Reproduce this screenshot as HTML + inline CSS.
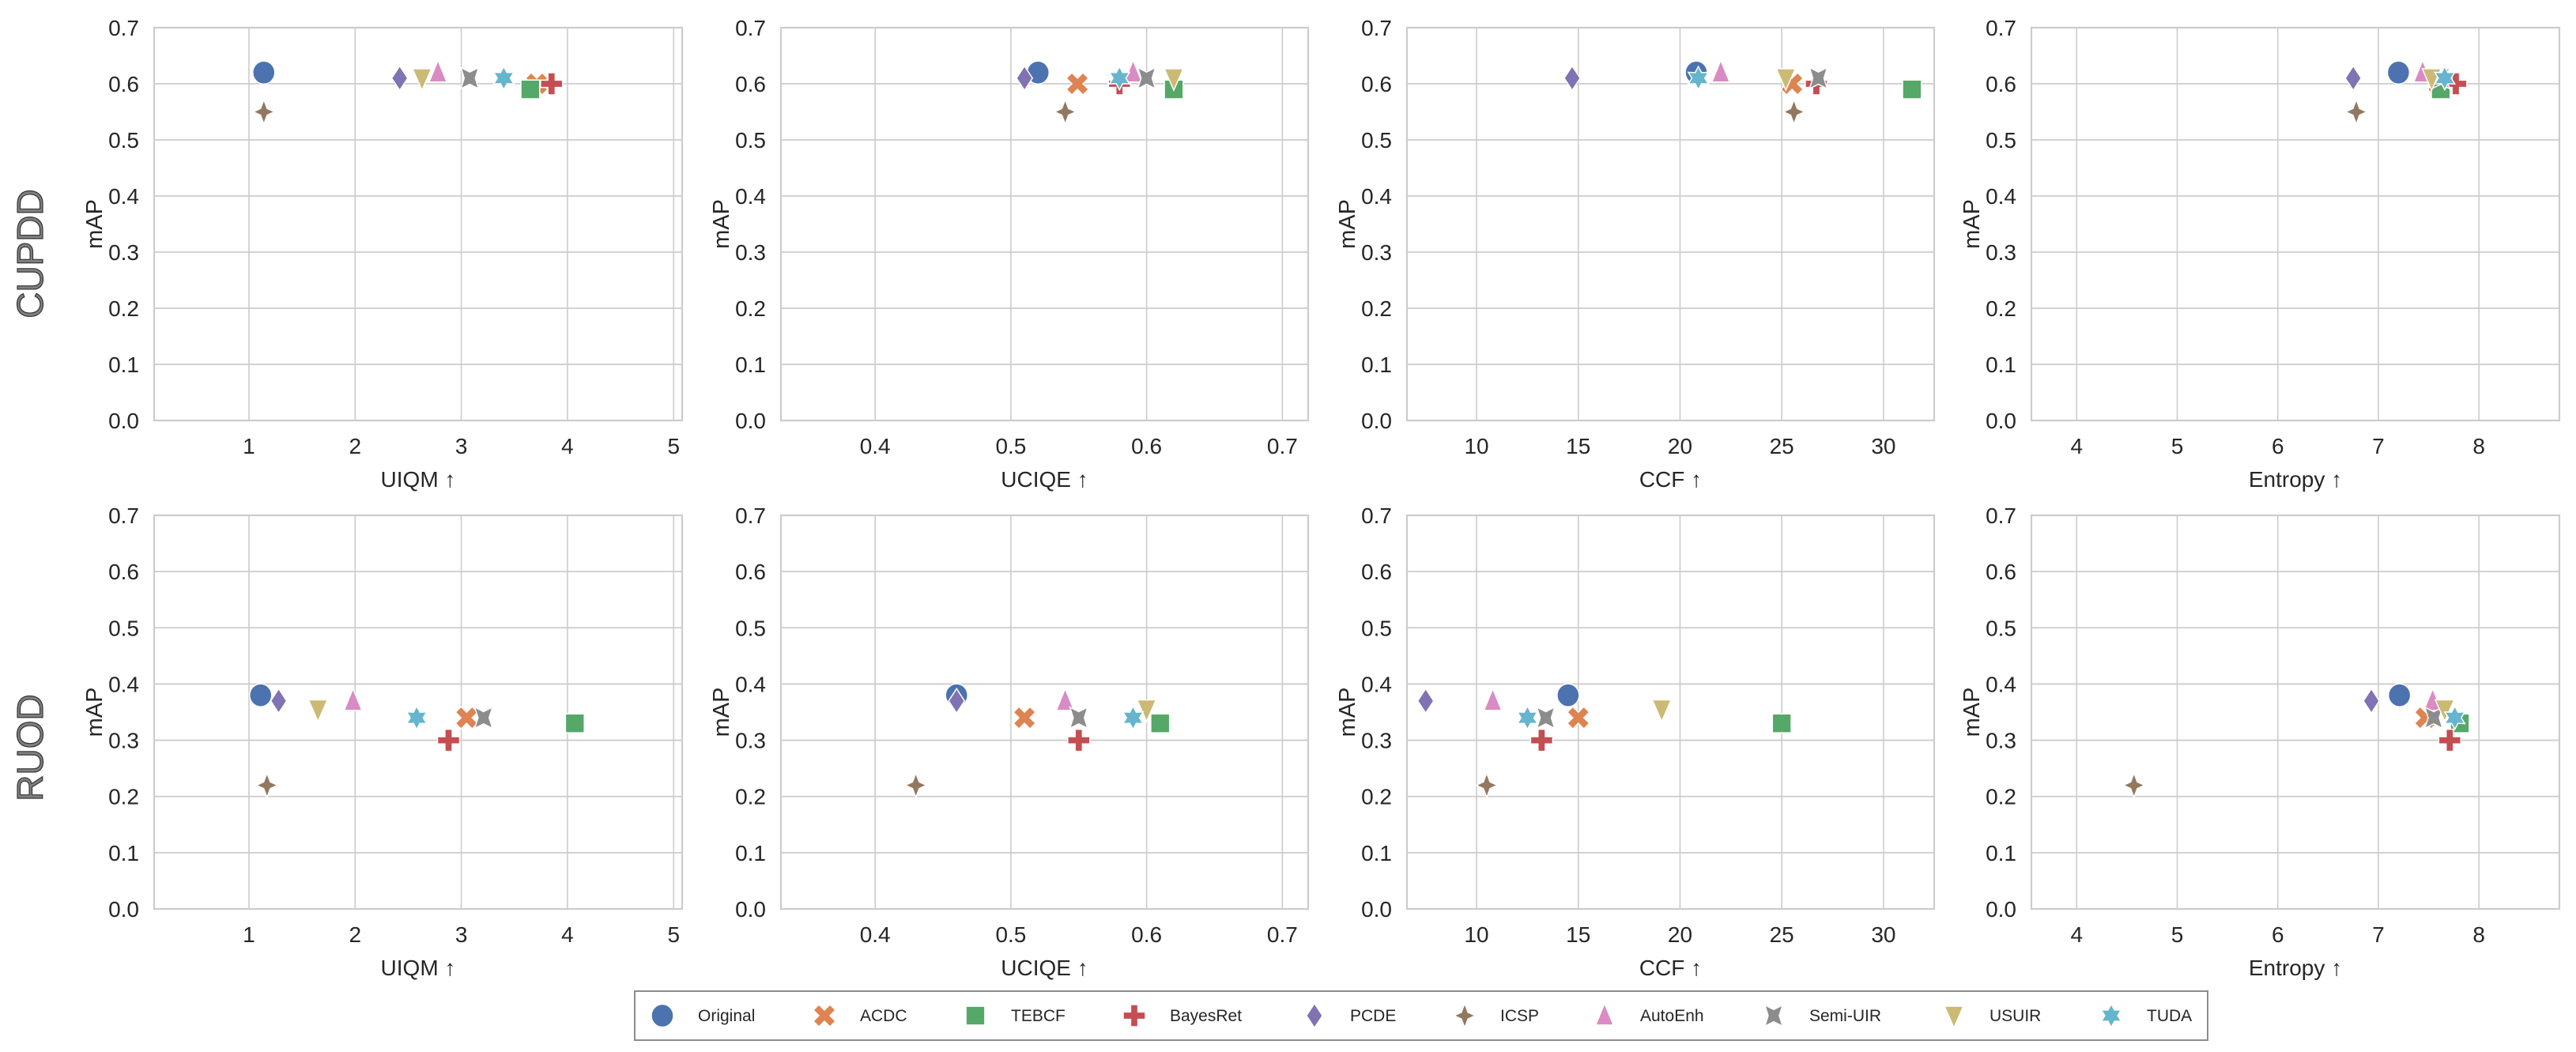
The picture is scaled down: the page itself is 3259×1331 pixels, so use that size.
<!DOCTYPE html>
<html><head><meta charset="utf-8"><style>
html,body{margin:0;padding:0;background:#fff}
svg{display:block}
text{font-family:"Liberation Sans",Arial,sans-serif;fill:#262626}
</style></head><body>
<svg id="chart" width="3259" height="1331" viewBox="0 0 3259 1331" xmlns="http://www.w3.org/2000/svg"></svg>
<script>
// ---- data ----
const methods = ["Original","ACDC","TEBCF","BayesRet","PCDE","ICSP","AutoEnh","Semi-UIR","USUIR","TUDA"];
const cupddMAP = [0.62,0.60,0.59,0.60,0.61,0.55,0.62,0.61,0.61,0.61];
const ruodMAP  = [0.38,0.34,0.33,0.30,0.37,0.22,0.37,0.34,0.355,0.34];
const cupddUIQM    = [1.14,3.71,3.65,3.85,2.42,1.14,2.78,3.08,2.63,3.40];
const cupddUCIQE   = [0.52,0.549,0.62,0.58,0.51,0.54,0.59,0.60,0.62,0.58];
const cupddCCF     = [20.8,25.5,31.4,26.7,14.7,25.6,22.0,26.8,25.2,20.9];
const cupddEntropy = [7.20,7.60,7.62,7.77,6.75,6.78,7.44,7.62,7.53,7.66];
const ruodUIQM     = [1.11,3.05,4.07,2.88,1.28,1.17,1.98,3.21,1.65,2.58];
const ruodUCIQE    = [0.46,0.51,0.61,0.55,0.46,0.43,0.54,0.55,0.60,0.59];
const ruodCCF      = [14.5,15.0,25.0,13.2,7.5,10.5,10.8,13.4,19.1,12.5];
const ruodEntropy  = [7.21,7.47,7.81,7.71,6.93,4.57,7.54,7.55,7.66,7.76];
const uiqmTicks = [1,2,3,4,5];
const uciqeTicks = [0.4,0.5,0.6,0.7];
const ccfTicks = [10,15,20,25,30];
const entropyTicks = [4,5,6,7,8];
const yTicks = [0,0.1,0.2,0.3,0.4,0.5,0.6,0.7];
const metricNames = ["UIQM ↑","UCIQE ↑","CCF ↑","Entropy ↑"];
const rowNames = ["CUPDD","RUOD"];

const colors = ["#4C72B0","#DD8452","#55A868","#C44E52","#8172B3","#937860","#DA8BC3","#8C8C8C","#CCB974","#64B5CD"];
const NS = "http://www.w3.org/2000/svg";
const svg = document.getElementById('chart');
function el(tag, attrs, parent){const e=document.createElementNS(NS,tag);for(const k in attrs)e.setAttribute(k,attrs[k]);(parent||svg).appendChild(e);return e;}

const colX = [[195,863],[988,1655],[1780,2447],[2570,3238]];
const rowY = [[35,532],[652,1150]];
const xLims = [[0.107,5.08],[0.3306,0.719],[6.58,32.49],[3.55,8.80]];
const xTicksAll = [uiqmTicks,uciqeTicks,ccfTicks,entropyTicks];
const xData = [[cupddUIQM,cupddUCIQE,cupddCCF,cupddEntropy],[ruodUIQM,ruodUCIQE,ruodCCF,ruodEntropy]];
const yData = [cupddMAP, ruodMAP];

const shapes = {
  X:[[-0.5,-1],[0,-0.5],[0.5,-1],[1,-0.5],[0.5,0],[1,0.5],[0.5,1],[0,0.5],[-0.5,1],[-1,0.5],[-0.5,0],[-1,-0.5]],
  s:[[-0.85,-0.85],[0.85,-0.85],[0.85,0.85],[-0.85,0.85]],
  P:[[-0.33,-1],[0.33,-1],[0.33,-0.33],[1,-0.33],[1,0.33],[0.33,0.33],[0.33,1],[-0.33,1],[-0.33,0.33],[-1,0.33],[-1,-0.33],[-0.33,-0.33]],
  D:[[0,-1.1],[0.72,0],[0,1.1],[-0.72,0]],
  star4:[[0,-1.1],[0.3,-0.3],[0.95,0],[0.3,0.3],[0,1.1],[-0.3,0.3],[-0.95,0],[-0.3,-0.3]],
  up:[[0,-1.1],[0.8,0.85],[-0.8,0.85]],
  bow:[[-0.8,-0.95],[0,-0.55],[0.8,-0.95],[0.5,0],[0.8,0.95],[0,0.55],[-0.8,0.95],[-0.5,0]],
  down:[[-0.85,-0.85],[0.85,-0.85],[0,1.1]],
  hex:(()=>{const p=[];for(let i=0;i<12;i++){const a=-Math.PI/2+i*Math.PI/6;const r=i%2?0.58:1.05;p.push([r*Math.cos(a),r*Math.sin(a)]);}return p;})()
};
const markerKinds = ["o","X","s","P","D","star4","up","bow","down","hex"];
function drawMarker(i, cx, cy, r, parent){
  const k = markerKinds[i];
  let e;
  if(k==="o"){ e = el('ellipse',{cx:cx,cy:cy,rx:r,ry:r*1.04,fill:colors[i],stroke:'#fff','stroke-width':1.5},parent); }
  else { e = el('polygon',{points:shapes[k].map(p=>(cx+p[0]*r).toFixed(1)+','+(cy+p[1]*r).toFixed(1)).join(' '),fill:colors[i],stroke:'#fff','stroke-width':1.5},parent); }
  return e;
}

for(let row=0; row<2; row++){
  for(let col=0; col<4; col++){
    const [x0,x1]=colX[col], [y0,y1]=rowY[row], [lo,hi]=xLims[col];
    const sx = v => x0 + (v-lo)/(hi-lo)*(x1-x0);
    const sy = v => y1 - v/0.7*(y1-y0);
    const g = el('g',{});
    
    
    xTicksAll[col].forEach(t=>{
      const gl = el('line',{x1:sx(t),x2:sx(t),y1:y0,y2:y1,stroke:'#cccccc','stroke-width':1.6},g);
      
      
      const tl = el('text',{x:sx(t),y:y1+42,'font-size':28,'text-anchor':'middle'},g);
      tl.textContent = String(t);
      
      
    });
    yTicks.forEach(t=>{
      const gl = el('line',{x1:x0,x2:x1,y1:sy(t),y2:sy(t),stroke:'#cccccc','stroke-width':1.8},g);
      
      
      const tl = el('text',{x:x0-19,y:sy(t)+10,'font-size':28,'text-anchor':'end'},g);
      tl.textContent = t.toFixed(1);
      
      
    });
    const fr = el('rect',{x:x0,y:y0,width:x1-x0,height:y1-y0,fill:'none',stroke:'#cccccc','stroke-width':2.2},g);
    
    
    const xl = el('text',{x:(x0+x1)/2,y:y1+84,'font-size':28,'text-anchor':'middle'},g);
    xl.textContent = metricNames[col];
    
    
    const ycy=(y0+y1)/2, ycx=x0-76;
    const yl = el('text',{x:ycx,y:ycy,'font-size':29,'text-anchor':'middle',transform:`rotate(-90 ${ycx} ${ycy})`,dy:10},g);
    yl.textContent = 'mAP';
    
    
    for(let i=0;i<methods.length;i++){
      const m = drawMarker(i, sx(xData[row][col][i]), sy(yData[row][i]), 14, g);
      
      
    }
  }
  const rcx=38, rcy = row===0?321:946;
  const rl = el('text',{x:rcx,y:rcy,dy:16,'font-size':46,'text-anchor':'middle',transform:`rotate(-90 ${rcx} ${rcy})`,style:'fill:#808080;stroke:#333;stroke-width:1.2'});
  rl.textContent = rowNames[row];
  
  
}

const lg = el('g',{});


const lbox = el('rect',{x:803,y:1254,width:1990,height:62,fill:'#fff',stroke:'#8c8c8c','stroke-width':2},lg);


const legMarkerX = [838,1043,1234,1435,1663,1853,2030,2244,2472,2671];
for(let i=0;i<methods.length;i++){
  const m = drawMarker(i, legMarkerX[i], 1285, 14, lg);
  
  
  const t = el('text',{x:legMarkerX[i]+45,y:1292,'font-size':21},lg);
  t.textContent = methods[i];
  
  
}
</script>
</body></html>
